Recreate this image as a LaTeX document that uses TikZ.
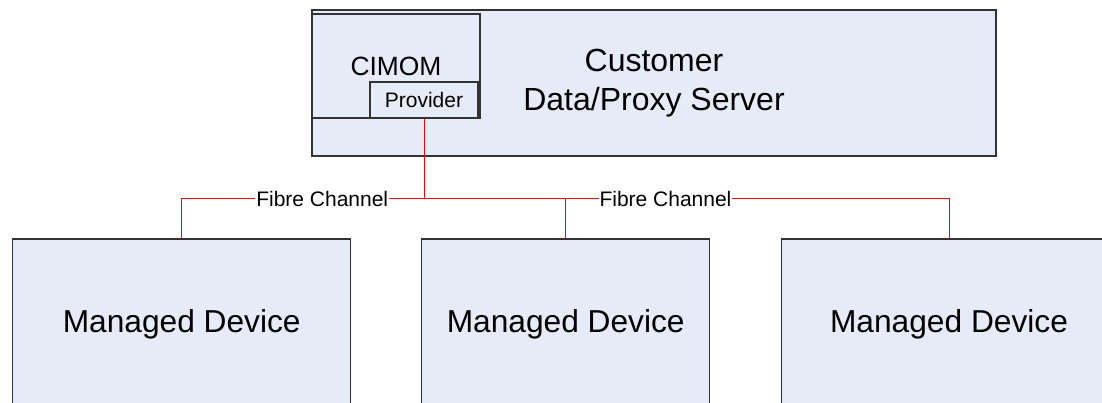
\documentclass[tikz,border=0pt]{standalone}
\usepackage{fontspec}
\setmainfont{Liberation Sans}
\usetikzlibrary{positioning}
\definecolor{boxfill}{HTML}{E6ECF7}
\definecolor{edgegray}{HTML}{333333}
\begin{document}
\begin{tikzpicture}[x=1pt, y=-1pt,
    b/.style={draw=edgegray, line width=1.1pt, fill=boxfill, inner sep=0pt, align=center},
    fc/.style={draw=red, line width=0.9pt},
    lbl/.style={fill=white, inner sep=1pt, font=\fontsize{21}{25}\selectfont}]
  \useasboundingbox (0,0) rectangle (1102,403);
  \clip (0,0) rectangle (1102,403);
  % server side
  \node[b, minimum width=684pt, minimum height=146pt, font=\fontsize{32}{38}\selectfont] (srv) at (654,83) {Customer\\[1pt]Data/Proxy Server};
  \node[b, minimum width=168pt, minimum height=104pt, font=\fontsize{26.4}{30}\selectfont] (cimom) at (396,66) {CIMOM};
  \node[b, minimum width=108pt, minimum height=36pt, font=\fontsize{21}{25}\selectfont] (prov) at (424,100) {Provider};
  % devices
  \node[b, minimum width=338pt, minimum height=170pt, font=\fontsize{31.7}{38}\selectfont] (dev1) at (181.7,324) {Managed Device};
  \node[b, minimum width=288pt, minimum height=170pt, font=\fontsize{31.7}{38}\selectfont] (dev2) at (565.7,324) {Managed Device};
  \node[b, minimum width=335pt, minimum height=170pt, font=\fontsize{31.7}{38}\selectfont] (dev3) at (949,324) {Managed Device};
  % fibre links
  \coordinate (bus) at (424,198.5);
  \draw[fc] (prov.south) -- (bus);
  \draw[fc] (bus) -| (dev1.north) node[lbl, pos=0.21] (fc1) {Fibre Channel};
  \draw[fc] (bus) -| (dev2.north);
  \draw[fc] (bus) -| (dev3.north) node[lbl, pos=0.23] (fc2) {Fibre Channel};
\end{tikzpicture}
\end{document}
